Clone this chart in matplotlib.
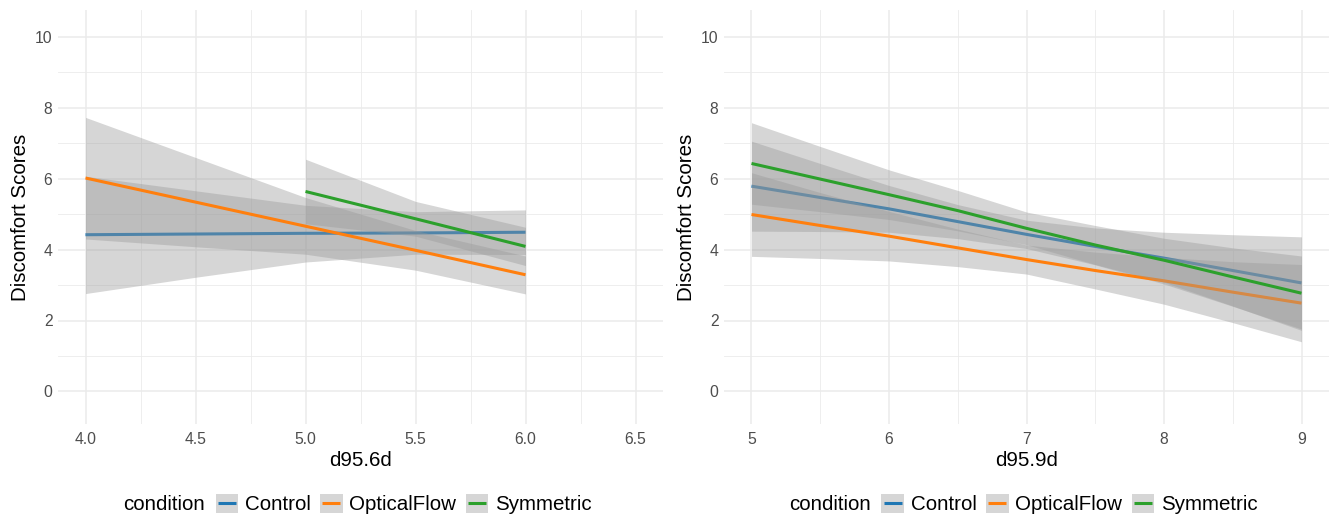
import numpy as np
import matplotlib
matplotlib.use("Agg")
from matplotlib import pyplot as plt
from matplotlib.patches import Rectangle
from matplotlib.lines import Line2D
from matplotlib.legend_handler import HandlerBase

plt.rcParams['font.family'] = ['Liberation Sans', 'DejaVu Sans']

conditions = ["Control", "OpticalFlow", "Symmetric"]
colors = {"Control": "#1f77b4", "OpticalFlow": "#ff7f0e", "Symmetric": "#2ca02c"}

# left panel: d95.6d
x6_ctrl = [4.0, 4.5, 5.0, 5.5, 6.0]
fit6_ctrl = [4.42, 4.44, 4.46, 4.47, 4.49]
lo6_ctrl = [2.76, 3.22, 3.65, 3.87, 3.86]
hi6_ctrl = [6.07, 5.66, 5.25, 5.07, 5.12]

x6_of = [4.0, 4.5, 5.0, 5.5, 6.0]
fit6_of = [6.02, 5.34, 4.66, 3.98, 3.29]
lo6_of = [4.30, 4.08, 3.87, 3.42, 2.75]
hi6_of = [7.73, 6.60, 5.47, 4.54, 3.82]

x6_sym = [5.0, 5.5, 6.0]
fit6_sym = [5.64, 4.87, 4.09]
lo6_sym = [4.73, 4.38, 3.55]
hi6_sym = [6.55, 5.36, 4.63]

# right panel: d95.9d
x9 = [5.0, 5.5, 6.0, 6.5, 7.0, 7.5, 8.0, 8.5, 9.0]
fit9_ctrl = [5.79, 5.47, 5.15, 4.79, 4.43, 4.09, 3.76, 3.41, 3.06]
lo9_ctrl = [4.52, 4.51, 4.49, 4.31, 4.03, 3.57, 3.03, 2.40, 1.76]
hi9_ctrl = [7.06, 6.43, 5.81, 5.27, 4.83, 4.61, 4.49, 4.42, 4.36]

fit9_of = [4.99, 4.68, 4.38, 4.05, 3.72, 3.41, 3.12, 2.80, 2.49]
lo9_of = [3.81, 3.75, 3.68, 3.52, 3.31, 2.89, 2.46, 1.94, 1.40]
hi9_of = [6.17, 5.61, 5.08, 4.58, 4.13, 3.93, 3.78, 3.66, 3.58]

fit9_sym = [6.43, 5.99, 5.55, 5.10, 4.60, 4.13, 3.70, 3.23, 2.77]
lo9_sym = [5.28, 5.07, 4.85, 4.53, 4.14, 3.58, 3.08, 2.41, 1.72]
hi9_sym = [7.58, 6.91, 6.25, 5.67, 5.06, 4.68, 4.32, 4.05, 3.82]

panels = [
    {"xlabel": "d95.6d", "xlim": (3.875, 6.625),
     "xticks": [4.0, 4.5, 5.0, 5.5, 6.0, 6.5], "xfmt": "%.1f",
     "xminor": [4.25, 4.75, 5.25, 5.75, 6.25],
     "series": [(x6_ctrl, fit6_ctrl, lo6_ctrl, hi6_ctrl),
                (x6_of, fit6_of, lo6_of, hi6_of),
                (x6_sym, fit6_sym, lo6_sym, hi6_sym)]},
    {"xlabel": "d95.9d", "xlim": (4.8, 9.2),
     "xticks": [5, 6, 7, 8, 9], "xfmt": "%d",
     "xminor": [5.5, 6.5, 7.5, 8.5],
     "series": [(x9, fit9_ctrl, lo9_ctrl, hi9_ctrl),
                (x9, fit9_of, lo9_of, hi9_of),
                (x9, fit9_sym, lo9_sym, hi9_sym)]},
]


class KeyHandler(HandlerBase):
    def create_artists(self, legend, orig_handle, xdescent, ydescent,
                       width, height, fontsize, trans):
        box = Rectangle((-xdescent, -ydescent), width, height,
                        facecolor="#d6d6d6", edgecolor="none", transform=trans)
        ln = Line2D([-xdescent + 0.1 * width, -xdescent + 0.9 * width],
                    [-ydescent + height / 2] * 2, color=orig_handle.get_color(),
                    lw=2.2, solid_capstyle="butt", transform=trans)
        return [box, ln]


fig = plt.figure(figsize=(13.29, 5.14), dpi=100)
axes_left = [58 / 1329, 724 / 1329]

for n, p in enumerate(panels):
    ax = fig.add_axes([axes_left[n], 1 - 424 / 514, 605 / 1329, 414 / 514])
    handles = []
    for i, (cond, (xs, fit, lo, hi)) in enumerate(zip(conditions, p["series"])):
        ax.fill_between(xs, lo, hi, color="#999999", alpha=0.4, linewidth=0,
                        zorder=3 + 2 * i)
        h, = ax.plot(xs, fit, color=colors[cond], lw=2.2,
                     solid_capstyle="butt", zorder=4 + 2 * i)
        handles.append(h)

    ax.set_xlim(*p["xlim"])
    ax.set_ylim(-0.92, 10.76)
    ax.set_xticks(p["xticks"])
    ax.set_xticklabels([p["xfmt"] % v for v in p["xticks"]])
    ax.set_xticks(p["xminor"], minor=True)
    ax.set_yticks([0, 2, 4, 6, 8, 10])
    ax.set_yticks([1, 3, 5, 7, 9], minor=True)
    ax.grid(True, which="major", color="#ebebeb", lw=1.1)
    ax.grid(True, which="minor", color="#ebebeb", lw=0.6)
    ax.set_axisbelow(True)
    for s in ax.spines.values():
        s.set_visible(False)
    ax.tick_params(which="both", length=0, labelsize=11.3, labelcolor="#4d4d4d")
    ax.tick_params(axis="x", pad=6)
    ax.tick_params(axis="y", pad=4)
    ax.set_xlabel(p["xlabel"], fontsize=14.8, labelpad=3)
    ax.set_ylabel("Discomfort Scores", fontsize=14.8)
    ax.yaxis.set_label_coords(-0.046, 0.5)

    # legend at the bottom, title on the left
    xc = axes_left[n] + 605 / 1329 / 2
    fig.text(xc - 237 / 1329, 1 - 504 / 514, "condition", fontsize=14.8,
             ha="left", va="center")
    fig.legend(handles, conditions, loc="center left",
               bbox_to_anchor=(xc - 145 / 1329, 1 - 504 / 514),
               ncol=3, frameon=False, fontsize=14.8, borderpad=0,
               handlelength=1.1, handleheight=1.05, handletextpad=0.33,
               columnspacing=0.45, borderaxespad=0,
               handler_map={Line2D: KeyHandler()})

fig.savefig("out.png", dpi=100)
